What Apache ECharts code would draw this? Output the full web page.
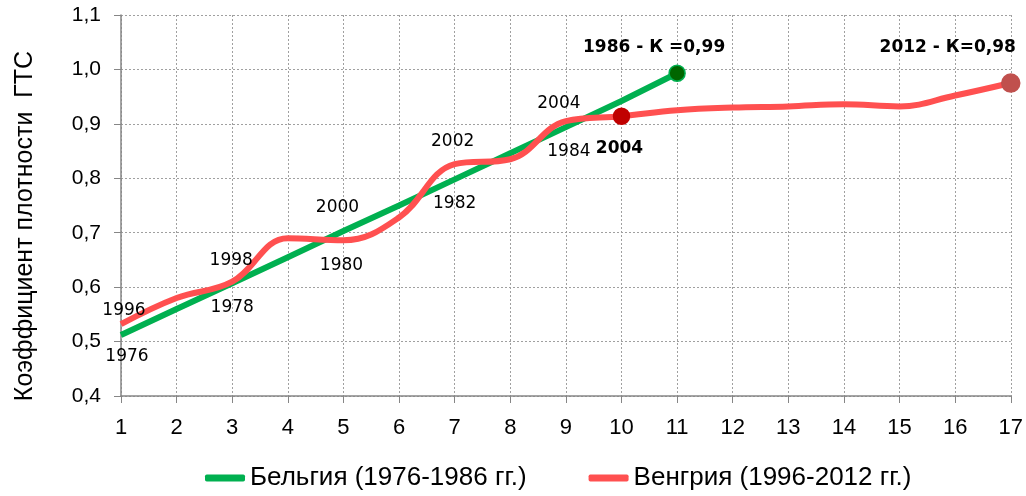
<!DOCTYPE html>
<html>
<head>
<meta charset="utf-8">
<script src="https://cdn.jsdelivr.net/npm/echarts@6/dist/echarts.min.js"></script>
<style>
  html, body { margin: 0; padding: 0; background: #fff; }
  #chart { width: 1026px; height: 496px; }
</style>
</head>
<body>
<div id="chart"></div>
<script>
// данные
const xSteps = [1, 2, 3, 4, 5, 6, 7, 8, 9, 10, 11, 12, 13, 14, 15, 16, 17];
const yTicks = [0.4, 0.5, 0.6, 0.7, 0.8, 0.9, 1.0, 1.1];

const belgiumName = 'Бельгия (1976-1986 гг.)';
const belgiumValues = [0.512, 0.56, 0.607, 0.655, 0.703, 0.75, 0.798, 0.846, 0.894, 0.942, 0.993];
const belgiumLabels = ['1976', '', '1978', '', '1980', '', '1982', '', '1984', '', '1986 - К =0,99'];

const hungaryName = 'Венгрия (1996-2012 гг.)';
const hungaryValues = [0.532, 0.58, 0.61, 0.69, 0.686, 0.728, 0.826, 0.835, 0.905, 0.914, 0.925, 0.93, 0.932, 0.936, 0.932, 0.952, 0.975];
const hungaryLabels = ['1996', '', '1998', '', '2000', '', '2002', '', '2004', '2004', '', '', '', '', '', '', '2012 - К=0,98'];

const yName = 'Коэффициент плотности  ГТС';

const FONT = 'DejaVu Sans';
const AXIS_FONT = 'Liberation Sans';

// подписи точек: положение и стиль
const belgiumLabelStyle = {
  0: { offset: [6, 22] }, 2: { offset: [0, 24] }, 4: { offset: [-2, 34] },
  6: { offset: [0, 24] }, 8: { offset: [3, 24] },
  10: { offset: [-23, -26], bold: true, marker: true }
};
const hungaryLabelStyle = {
  0: { offset: [3, -14] }, 2: { offset: [-1, -21] }, 4: { offset: [-6, -33] },
  6: { offset: [-2, -23] }, 8: { offset: [-7, -18] },
  9: { offset: [-2, 32], bold: true, marker: true, color: '#C00000' },
  16: { offset: [-63, -35], bold: true, marker: true, color: '#C0504D', size: 18 }
};

function buildData(values, labels, styles, markerColor, markerBorder) {
  return values.map((v, i) => {
    const s = styles[i];
    const item = { value: [xSteps[i], v], symbolSize: 0 };
    if (s) {
      item.label = {
        show: true,
        formatter: labels[i],
        position: 'inside',
        offset: s.offset,
        fontFamily: FONT,
        fontSize: 17,
        fontWeight: s.bold ? 'bold' : 'normal',
        color: '#000'
      };
      if (s.marker) {
        item.symbolSize = s.size || 16;
        item.itemStyle = {
          color: s.color || markerColor,
          borderColor: markerBorder || s.color || markerColor,
          borderWidth: 1.5
        };
      }
    }
    return item;
  });
}

let myChart = echarts.init(document.getElementById('chart'));

let option = {
  backgroundColor: '#fff',
  animation: false,
  grid: { left: 121, right: 13, top: 15, bottom: 100 },
  graphic: [{
    type: 'text',
    x: 25,
    y: 226,
    rotation: Math.PI / 2,
    style: {
      text: yName,
      fontFamily: AXIS_FONT,
      fontSize: 25,
      fill: '#000',
      align: 'center',
      verticalAlign: 'middle'
    }
  }],
  legend: {
    left: 205,
    top: 465,
    padding: 0,
    itemWidth: 40,
    itemHeight: 7,
    itemGap: 62,
    textStyle: { fontFamily: AXIS_FONT, fontSize: 26, color: '#000' },
    data: [
      { name: belgiumName, icon: 'roundRect', itemStyle: { color: '#00B050' } },
      { name: hungaryName, icon: 'roundRect', itemStyle: { color: '#FF5050' } }
    ]
  },
  xAxis: {
    type: 'value',
    min: 1,
    max: 17,
    interval: 1,
    axisLine: { lineStyle: { color: '#868686', width: 1.5 } },
    axisTick: { show: true, length: 7, lineStyle: { color: '#868686' } },
    axisLabel: { fontFamily: AXIS_FONT, fontSize: 22, color: '#000', margin: 21 },
    splitLine: { show: true, lineStyle: { color: '#A0A0A0', type: [2, 2] } }
  },
  yAxis: {
    type: 'value',
    min: yTicks[0],
    max: yTicks[yTicks.length - 1],
    interval: 0.1,
    axisLine: { show: true, lineStyle: { color: '#868686', width: 1.5 } },
    axisTick: { show: true, length: 7, lineStyle: { color: '#868686' } },
    axisLabel: {
      fontFamily: AXIS_FONT, fontSize: 21, color: '#000', margin: 20,
      formatter: v => v.toFixed(1).replace('.', ',')
    },
    splitLine: { show: true, lineStyle: { color: '#A0A0A0', type: [2, 2] } }
  },
  series: [
    {
      name: belgiumName,
      type: 'line',
      symbol: 'circle',
      z: 2,
      lineStyle: { color: '#00B050', width: 6 },
      itemStyle: { color: '#00B050' },
      data: buildData(belgiumValues, belgiumLabels, belgiumLabelStyle, '#006600', '#00B050')
    },
    {
      name: hungaryName,
      type: 'line',
      symbol: 'circle',
      smooth: 0.4,
      z: 3,
      lineStyle: { color: '#FF5050', width: 6 },
      itemStyle: { color: '#FF5050' },
      data: buildData(hungaryValues, hungaryLabels, hungaryLabelStyle, '#C00000')
    }
  ]
};

myChart.setOption(option, true);
</script>
</body>
</html>
